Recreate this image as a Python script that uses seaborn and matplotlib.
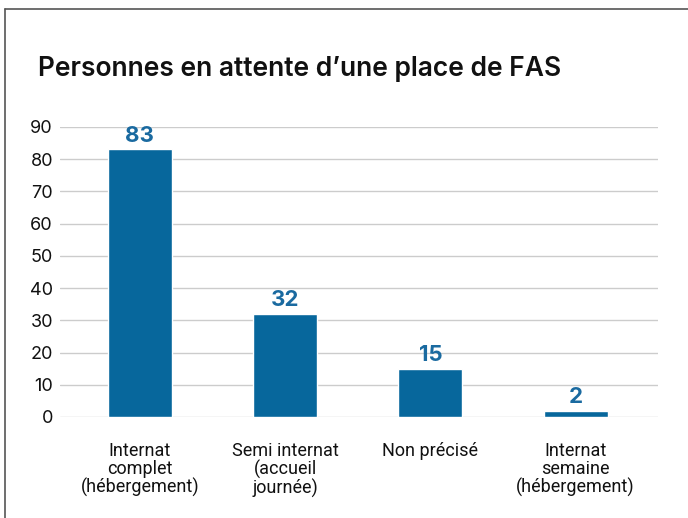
import matplotlib
matplotlib.use("Agg")
import matplotlib.pyplot as plt
import seaborn as sns
import pandas as pd
from matplotlib.lines import Line2D

# === DATA ===
CATEGORIES = [
    "Internat\ncomplet\n(hébergement)",
    "Semi internat\n(accueil\njournée)",
    "Non précisé",
    "Internat\nsemaine\n(hébergement)",
]
VALUES = [83, 32, 15, 2]
Y_TICKS = [0, 10, 20, 30, 40, 50, 60, 70, 80, 90]
TITLE = "Personnes en attente d’une place de FAS"

BAR_COLOR = "#07679c"
LABEL_COLOR = "#1a6aa0"

sns.set_style("white")
plt.rcParams["font.family"] = ["Inter", "DejaVu Sans"]

df = pd.DataFrame({"cat": CATEGORIES, "val": VALUES})

fig = plt.figure(figsize=(6.88, 5.18), dpi=100)
ax = fig.add_axes([0.087, 0.195, 0.87, 0.56])

sns.barplot(data=df, x="cat", y="val", color=BAR_COLOR, width=0.44,
            saturation=1, ax=ax, zorder=3)

ax.set_ylim(0, 90)
ax.set_yticks(Y_TICKS)
ax.set_xlim(-0.55, 3.57)
ax.yaxis.grid(True, color="#cccccc", linewidth=1, zorder=0)
ax.set_axisbelow(True)
for s in ax.spines.values():
    s.set_visible(False)
ax.set_xlabel("")
ax.set_ylabel("")
ax.tick_params(axis="y", length=0, labelsize=13, pad=5, labelcolor="#111111")
ax.tick_params(axis="x", length=0, labelsize=13, pad=18, labelcolor="#111111")
for lbl in ax.get_xticklabels():
    lbl.set_family(["Roboto", "DejaVu Sans"])
    lbl.set_linespacing(1.0)
    lbl.set_verticalalignment("top")

for i, v in enumerate(VALUES):
    ax.text(i, v + 1.2, str(v), ha="center", va="bottom", fontsize=16,
            fontweight="bold", color=LABEL_COLOR)

fig.text(0.055, 0.867, TITLE, fontsize=19, fontweight="semibold", color="#111111",
         ha="left", va="center")

# frame lines (top and left)
fig.add_artist(Line2D([0.007, 1.0], [0.983, 0.983], color="#555555", lw=1.2,
                      transform=fig.transFigure))
fig.add_artist(Line2D([0.007, 0.007], [0.0, 0.983], color="#555555", lw=1.2,
                      transform=fig.transFigure))

fig.savefig("out.png", dpi=100)
